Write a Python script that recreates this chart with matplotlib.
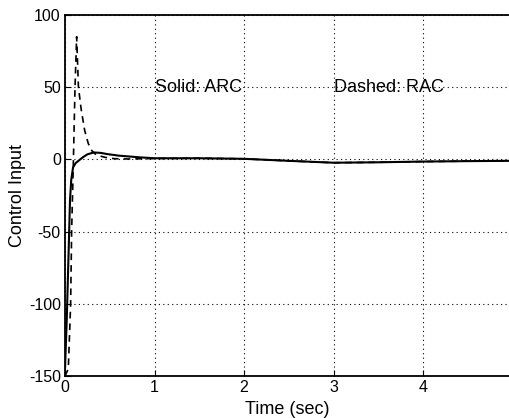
import numpy as np
import matplotlib
matplotlib.use("Agg")
import matplotlib.pyplot as plt

plt.rcParams['font.family'] = ['Liberation Sans', 'DejaVu Sans']
plt.rcParams['axes.unicode_minus'] = False

# Solid: ARC
t_arc = [0, 0.02, 0.04, 0.056, 0.07, 0.09, 0.12, 0.15, 0.2, 0.25, 0.32, 0.4,
         0.47, 0.6, 0.84, 1.0, 1.5, 2.0, 2.5, 3.0, 3.5, 4.0, 4.5, 4.97]
u_arc = [-145, -110, -65, -28, -14, -5.5, -2.5, -1, 1.5, 3.5, 4.8, 4.5,
         3.7, 2.6, 1.4, 0.8, 0.8, 0.4, -1.0, -2.3, -2.0, -1.5, -1.2, -1.0]

# Dashed: RAC
t_rac = [0, 0.037, 0.063, 0.074, 0.093, 0.112, 0.13, 0.15, 0.18, 0.22, 0.26,
         0.30, 0.35, 0.45, 0.55, 0.7, 1.0, 1.5, 2.0, 2.5, 3.0, 3.5, 4.0, 4.5, 4.97]
u_rac = [-150, -145, -100, -50, -3, 50, 85, 50, 35, 20, 11,
         6, 3, 1.4, 0.5, 0.3, 0.6, 0.8, 0.4, -1.0, -2.3, -2.0, -1.5, -1.2, -1.0]

xticks = [0, 1, 2, 3, 4]
yticks = [-150, -100, -50, 0, 50, 100]

fig = plt.figure(figsize=(5.10, 4.18), dpi=100)
ax = fig.add_axes([65 / 510, 1 - 376 / 418, 445 / 510, 361 / 418])

ax.plot(t_arc, u_arc, color='black', linewidth=1.5, linestyle='-')
ax.plot(t_rac, u_rac, color='black', linewidth=1.2, linestyle=(0, (4, 3)))

ax.set_xlim(0, 4.97)
ax.set_ylim(-150, 100)
ax.set_xticks(xticks)
ax.set_yticks(yticks)
ax.tick_params(direction='in', length=4, labelsize=11.5, colors='black', pad=3)
ax.grid(True, color='black', linestyle=(0, (1, 3)), linewidth=0.8)
ax.spines['right'].set_visible(False)
for s in ['left', 'top', 'bottom']:
    ax.spines[s].set_linewidth(1.3)

ax.text(1.0, 50, 'Solid: ARC', fontsize=13, va='center', ha='left')
ax.text(3.0, 50, 'Dashed: RAC', fontsize=13, va='center', ha='left')

ax.set_xlabel('Time (sec)', fontsize=13, labelpad=4)
ax.set_ylabel('Control Input', fontsize=13, labelpad=2)

fig.savefig('out.png', dpi=100)
